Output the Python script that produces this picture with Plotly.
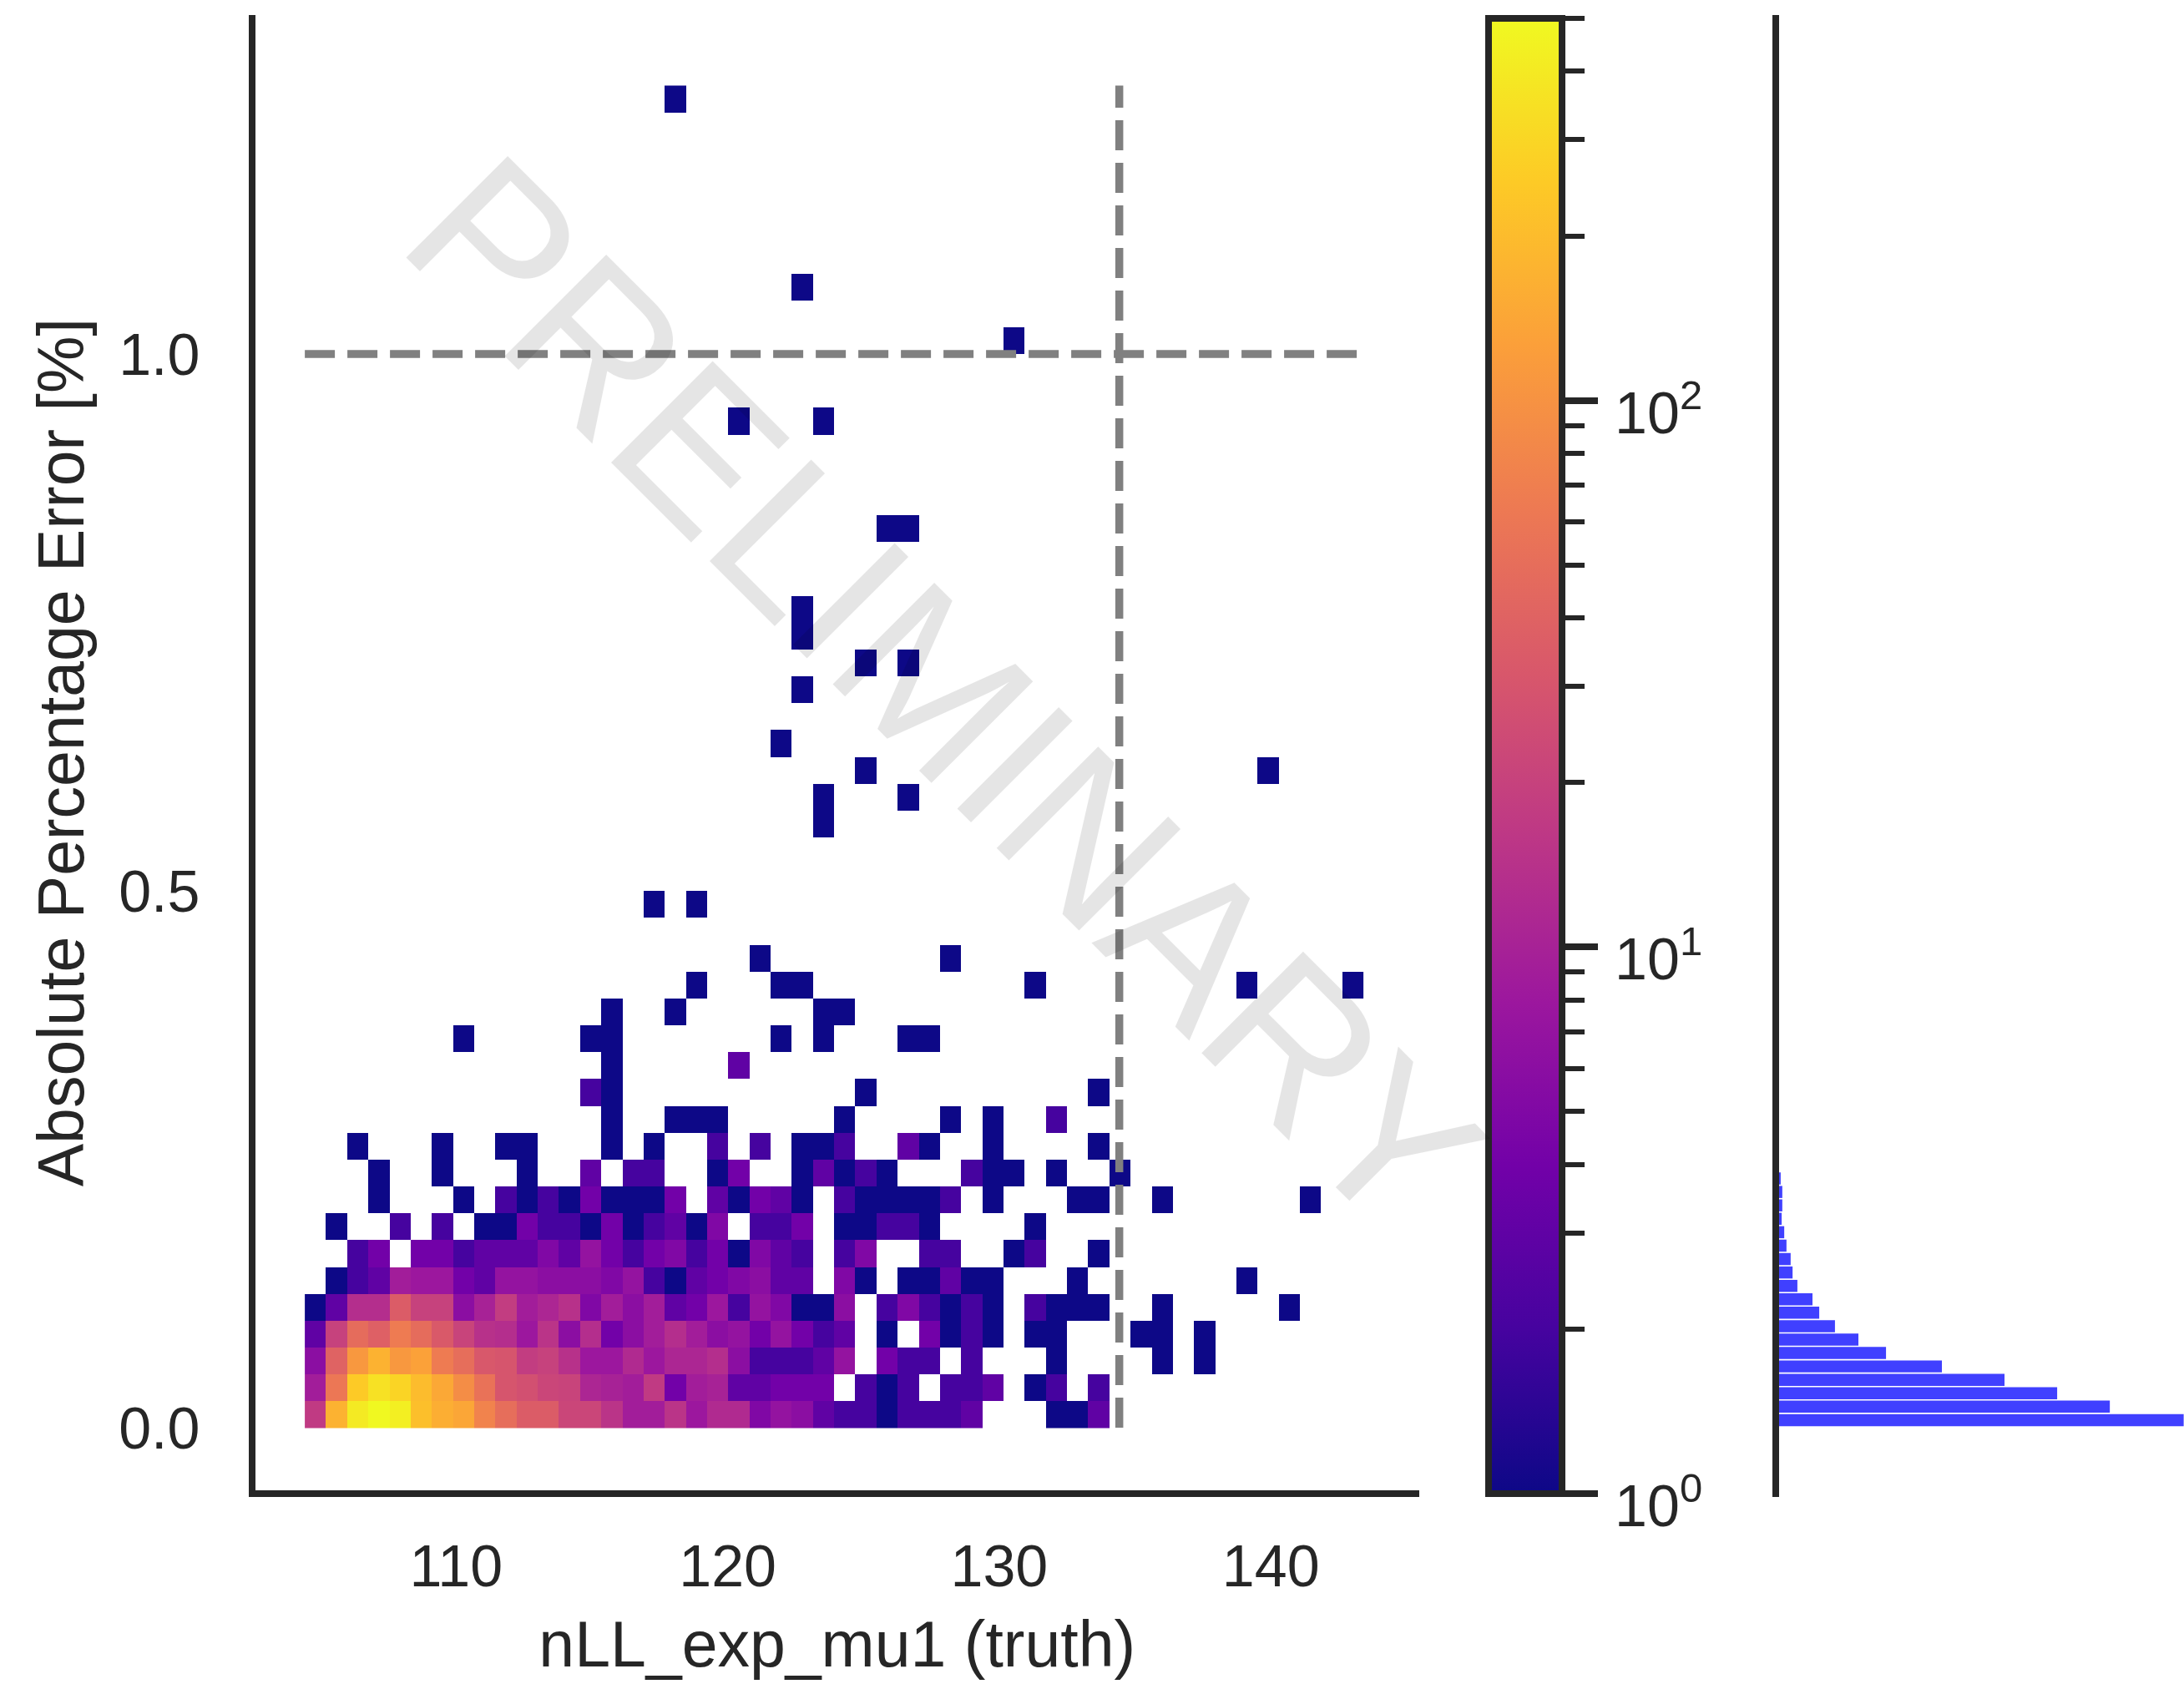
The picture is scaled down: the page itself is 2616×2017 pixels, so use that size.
import numpy as np
import plotly.graph_objects as go

# ---------- data ----------
n_bins = 50
x_min, x_max = 104.43, 143.41
y_min, y_max = 0.0, 1.25
dense_rows = [
    [17,170,400,495,430,210,160,140,75,50,35,35,22,22,15,9,9,15,8,12,12,5,7,6,3,2,2,1,2,2,2,3,0,0,0,1,1,3],
    [9,60,250,350,290,200,145,90,55,30,27,22,21,11,10,9,17,4,9,10,3,3,4,4,4,0,2,1,2,0,2,2,3,0,1,2,0,2],
    [6,40,110,170,110,130,65,50,32,30,18,20,14,8,8,12,8,11,11,13,6,2,2,2,3,7,0,4,2,2,0,2,0,0,0,1,0,0,0,0,1,0,1],
    [3,20,48,38,65,48,33,21,14,13,8,15,6,13,4,6,9,13,9,6,7,4,7,4,2,3,0,1,0,4,1,2,1,0,1,1,0,0,0,1,1,0,1],
    [1,3,13,13,35,20,20,6,10,18,9,11,14,5,9,6,9,3,4,8,2,7,5,1,1,6,0,2,5,2,1,2,1,0,2,1,1,1,0,0,1,0,0,0,0,0,1],
    [0,1,2,3,9,8,8,4,3,7,7,6,6,6,5,7,2,1,3,4,5,6,3,3,0,5,1,0,1,1,3,1,1,0,0,0,1,0,0,0,0,0,0,0,1],
    [0,0,2,4,0,4,4,2,3,3,3,5,3,7,4,2,4,5,2,4,1,5,3,2,0,2,5,0,0,2,2,0,0,1,2,0,0,1],
    [0,1,0,0,2,0,2,0,1,1,4,2,2,1,4,1,2,3,1,5,0,2,2,4,0,1,1,2,2,1,0,0,0,0,1],
    [0,0,0,1,0,0,0,1,0,2,1,2,1,4,1,1,1,4,0,3,1,4,3,1,0,2,1,1,1,1,2,0,1,0,0,0,1,1,0,0,1,0,0,0,0,0,0,1],
    [0,0,0,1,0,0,1,0,0,0,1,0,0,3,0,2,2,0,0,1,4,0,0,1,3,1,2,1,0,0,0,2,1,1,0,1,0,0,1],
    [0,0,1,0,0,0,1,0,0,1,1,0,0,0,1,0,1,0,0,2,0,2,0,1,1,2,0,0,3,1,0,0,1,0,0,0,0,1],
]
# (row, column, count) for the sparse upper part of the histogram
sparse_cells = [
    (11,14,1),(11,17,1),(11,18,1),(11,19,1),(11,25,1),(11,30,1),(11,32,1),(11,35,2),
    (12,13,2),(12,14,1),(12,26,1),(12,37,1),
    (13,14,1),(13,20,3),
    (14,7,1),(14,13,1),(14,14,1),(14,22,1),(14,24,1),(14,28,1),(14,29,1),
    (15,14,1),(15,17,1),(15,24,1),(15,25,1),
    (16,18,1),(16,22,1),(16,23,1),(16,34,1),(16,44,1),(16,49,1),
    (17,21,1),(17,30,1),
    (19,16,1),(19,18,1),
    (22,24,1),(23,24,1),(23,28,1),(24,26,1),(24,45,1),(25,22,1),
    (27,23,1),(28,26,1),(28,28,1),(29,23,1),(30,23,1),(33,27,1),(33,28,1),
    (37,20,1),(37,24,1),(40,33,1),(42,23,1),(49,17,1),
]
hist_counts = [1260,1030,866,702,507,333,247,174,125,104,57,42,36,23,16,8,10,10,5]
hist_bin = 0.0125
hist_start = 0.0008
limit_x = 134.42
limit_y = 1.0
x_ticks = [110, 120, 130, 140]
y_ticks = [0.0, 0.5, 1.0]
y_tick_text = ["0.0", "0.5", "1.0"]
cbar_major = [1, 10, 100]
cbar_major_text = ["10<sup>0</sup>", "10<sup>1</sup>", "10<sup>2</sup>"]
cbar_minor = [2,3,4,5,6,7,8,9,20,30,40,50,60,70,80,90,200,300,400,500]
cbar_max = 500
x_label = "nLL_exp_mu1 (truth)"
y_label = "Absolute Percentage Error [%]"
watermark = "PRELIMINARY"

# ---------- layout helpers (pixels of the 2616x2017 page) ----------
W, H = 2616, 2017
FONT = "Liberation Sans, Arial, sans-serif"
INK = "#262626"
CLEAR = "rgba(0,0,0,0)"
px = lambda v: v / W
py = lambda v: 1 - v / H

grid = np.zeros((n_bins, n_bins))
for r, row in enumerate(dense_rows):
    grid[r, :len(row)] = row
for r, c, v in sparse_cells:
    grid[r, c] = v
z = np.where(grid > 0, np.log10(np.where(grid > 0, grid, 1)), np.nan)

x_edges = np.linspace(x_min, x_max, n_bins + 1)
y_edges = np.linspace(y_min, y_max, n_bins + 1)

cb_top, cb_bottom = 22, 1789
fig = go.Figure()
fig.add_trace(go.Heatmap(
    x=x_edges, y=y_edges, z=z, colorscale="Plasma", zmin=0, zmax=np.log10(cbar_max),
    hoverongaps=False, xaxis="x", yaxis="y",
    colorbar=dict(
        thickness=88, thicknessmode="pixels",
        len=(cb_bottom - cb_top) / H, lenmode="fraction",
        x=px(1783), xanchor="left", xpad=0,
        y=py(cb_bottom), yanchor="bottom", ypad=0,
        outlinewidth=8, outlinecolor=INK, borderwidth=0,
        tickmode="array", tickvals=np.log10(cbar_major).tolist(), showticklabels=False,
        ticks="outside", ticklen=39, tickwidth=8, tickcolor=INK,
    ),
))
fig.add_trace(go.Scatter(
    x=[x_min, x_max], y=[limit_y, limit_y], mode="lines",
    line=dict(color="#808080", width=9.5, dash="36px,15px"), xaxis="x", yaxis="y",
    showlegend=False, hoverinfo="skip"))
fig.add_trace(go.Scatter(
    x=[limit_x, limit_x], y=[y_min, y_max], mode="lines",
    line=dict(color="#808080", width=9.5, dash="36px,15px"), xaxis="x", yaxis="y",
    showlegend=False, hoverinfo="skip"))
fig.add_trace(go.Bar(
    x=hist_counts, y=[hist_start + (i + 0.5) * hist_bin for i in range(len(hist_counts))],
    orientation="h", width=hist_bin * 0.9,
    marker=dict(color="rgba(0,0,255,0.75)", line=dict(width=0)),
    xaxis="x2", yaxis="y2", showlegend=False, hoverinfo="skip"))
# carrier of the colour bar's minor ticks
fig.add_trace(go.Scatter(
    x=[0], y=[0], mode="markers", marker=dict(opacity=0), xaxis="x2", yaxis="y3",
    showlegend=False, hoverinfo="skip"))

plot_l, plot_r, plot_t, plot_b = 305.5, 1700, 17.5, 1785
hist_b = 1793
y_scale = 1286.0
x_scale = 32.53
x_110 = 546.3
y_lo, y_hi = (1710 - plot_b) / y_scale, (1710 - plot_t) / y_scale
y2_lo = (1710 - hist_b) / y_scale
x_lo, x_hi = 110 - (x_110 - plot_l) / x_scale, 110 + (plot_r - x_110) / x_scale

cbar_labels = [
    dict(text=t, xref="paper", yref="paper", x=px(1932), y=py(cb_bottom - (cb_bottom - cb_top) * np.log10(v) / np.log10(cbar_max) + 10),
         xanchor="left", yanchor="middle", showarrow=False,
         font=dict(family=FONT, size=70, color=INK))
    for v, t in zip(cbar_major, cbar_major_text)
]

fig.update_layout(
    width=W, height=H, margin=dict(l=0, r=0, t=0, b=0, pad=0),
    paper_bgcolor="white", plot_bgcolor=CLEAR, showlegend=False,
    font=dict(family=FONT, color=INK),
    xaxis=dict(
        domain=[px(plot_l), px(plot_r)], range=[x_lo, x_hi], anchor="y",
        showgrid=False, zeroline=False, showline=True, linewidth=8, linecolor=INK,
        tickmode="array", tickvals=x_ticks, ticks="outside", ticklen=23, tickwidth=1, tickcolor=CLEAR,
        tickfont=dict(size=70, color=INK, family=FONT),
        title=dict(text=x_label, font=dict(size=77, color=INK, family=FONT), standoff=31),
    ),
    yaxis=dict(
        domain=[py(plot_b), py(plot_t)], range=[y_lo, y_hi], anchor="x",
        showgrid=False, zeroline=False, showline=True, linewidth=8, linecolor=INK,
        tickmode="array", tickvals=y_ticks, ticktext=y_tick_text, ticks="outside",
        ticklen=44, tickwidth=1, tickcolor=CLEAR,
        tickfont=dict(size=70, color=INK, family=FONT),
        title=dict(text=y_label, font=dict(size=77, color=INK, family=FONT), standoff=19),
    ),
    xaxis2=dict(
        domain=[px(2131), 1], range=[0, 1261], anchor="y2", visible=False, fixedrange=True),
    yaxis2=dict(
        domain=[py(hist_b), py(plot_t)], range=[y2_lo, y_hi], anchor="x2",
        showgrid=False, zeroline=False, showline=True, linewidth=8, linecolor=INK,
        showticklabels=False, ticks=""),
    yaxis3=dict(
        domain=[py(cb_bottom), py(cb_top)], range=[0, float(np.log10(cbar_max))],
        anchor="free", position=px(1871), side="right",
        showgrid=False, zeroline=False, showline=False, showticklabels=False,
        tickmode="array", tickvals=np.log10(cbar_minor).tolist(),
        ticks="outside", ticklen=26, tickwidth=6, tickcolor=INK),
    annotations=cbar_labels + [dict(
        text=watermark, xref="paper", yref="paper", x=px(1131), y=py(830),
        xanchor="center", yanchor="middle", showarrow=False, textangle=45,
        font=dict(family=FONT, size=250, color="rgba(0,0,0,0.1)"))],
)

fig.write_html("out.html", config={"displayModeBar": False},
               post_script="document.body.style.margin='0';")
